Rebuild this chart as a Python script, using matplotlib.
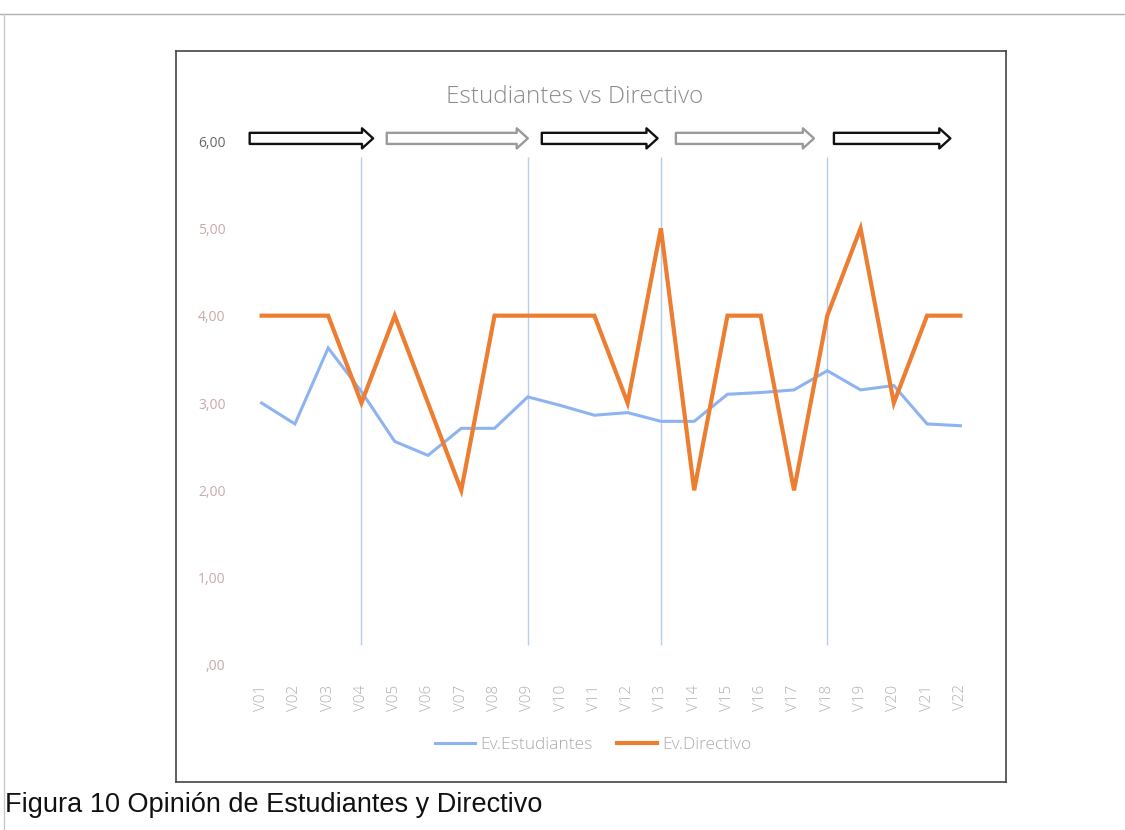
import matplotlib
matplotlib.use("Agg")
import matplotlib.pyplot as plt
from matplotlib.lines import Line2D

categories = ["V%02d" % i for i in range(1, 23)]
estudiantes = [3.00, 2.76, 3.63, 3.13, 2.56, 2.40, 2.71, 2.71, 3.07, 2.97, 2.86,
               2.89, 2.79, 2.79, 3.10, 3.12, 3.15, 3.37, 3.15, 3.20, 2.76, 2.74]
directivo = [4, 4, 4, 3, 4, 3, 2, 4, 4, 4, 4, 3, 5, 2, 4, 4, 2, 4, 5, 3, 4, 4]
yticks = [0, 1, 2, 3, 4, 5, 6]
ytick_labels = [",00", "1,00", "2,00", "3,00", "4,00", "5,00", "6,00"]
divider_positions = [3, 8, 12, 17]          # category indices of divider lines
arrow_spans = [(-0.36, 3.35), (3.76, 8.0), (8.42, 11.9), (12.45, 16.6), (17.2, 20.7)]
arrow_colors = ["#111111", "#9a9a9a", "#111111", "#9a9a9a", "#111111"]

fig = plt.figure(figsize=(11.25, 8.3), dpi=100)
fig.patch.set_facecolor("white")

# page decorations
fig.add_artist(Line2D([0, 1], [1 - 14/830, 1 - 14/830], color="#b0b0b0", lw=1))
fig.add_artist(Line2D([4/1125, 4/1125], [0, 1 - 14/830], color="#c8c8c8", lw=1))
# chart frame
x0, x1 = 176/1125, 1006/1125
y0, y1 = 1 - 782/830, 1 - 51/830
for xs, ys in [([x0, x1], [y0, y0]), ([x0, x1], [y1, y1]), ([x0, x0], [y0, y1]), ([x1, x1], [y0, y1])]:
    fig.add_artist(Line2D(xs, ys, color="#444444", lw=1.2))

ax = fig.add_axes([245/1125, 1 - 665/830, (977 - 245)/1125, (665 - 141)/830])
x = list(range(len(categories)))

ax.vlines(divider_positions, 0.23, 5.82, color="#b7cdf0", lw=1, zorder=1)
ax.plot(x, estudiantes, color="#8db3f0", lw=2.2, label="Ev.Estudiantes", zorder=3, solid_joinstyle="miter")
ax.plot(x, directivo, color="#ed7d31", lw=3.0, label="Ev.Directivo", zorder=4, solid_joinstyle="miter")

ax.set_xlim(-0.5, len(categories) - 0.5)
ax.set_ylim(0, 6)
ax.set_xticks(x)
ax.set_xticklabels(categories, rotation=90, color="#b0b0b0", fontsize=11, family="Open Sans",
                   fontweight="light")
ax.set_yticks(yticks)
ax.set_yticklabels(ytick_labels, fontsize=10, family="Open Sans")
for lbl in ax.get_yticklabels():
    lbl.set_color("#c9a9a9")
ax.get_yticklabels()[-1].set_color("#666666")
ax.tick_params(axis="both", length=0)
ax.tick_params(axis="y", pad=14)
ax.tick_params(axis="x", pad=14)
for s in ax.spines.values():
    s.set_visible(False)

# block arrows at the top
for (a, b), c in zip(arrow_spans, arrow_colors):
    ax.annotate("", xy=(b, 6.03), xytext=(a, 6.03), xycoords="data", textcoords="data",
                annotation_clip=False,
                arrowprops=dict(arrowstyle="simple,head_length=0.8,head_width=1.45,tail_width=0.8",
                                fc="white", ec=c, lw=1.7, shrinkA=0, shrinkB=0, mutation_scale=10))

fig.text(575/1125, 1 - 97/830, "Estudiantes vs Directivo", ha="center", va="center",
         fontsize=17.5, color="#8c8c8c", family="Open Sans", fontweight="light")

leg = ax.legend(loc="center", bbox_to_anchor=(593/1125, 1 - 745/830), bbox_transform=fig.transFigure,
                ncol=2, frameon=False, fontsize=12.5, handlelength=2.3, columnspacing=1.4,
                handletextpad=0.3)
for t in leg.get_texts():
    t.set_color("#acacac")
    t.set_family("Open Sans")
    t.set_fontweight("light")

fig.text(5/1125, 1 - 805/830, "Figura 10 Opinión de Estudiantes y Directivo", ha="left", va="center",
         fontsize=19.5, color="#111111", family="Liberation Sans")

fig.savefig("out.png", dpi=100, facecolor="white")
